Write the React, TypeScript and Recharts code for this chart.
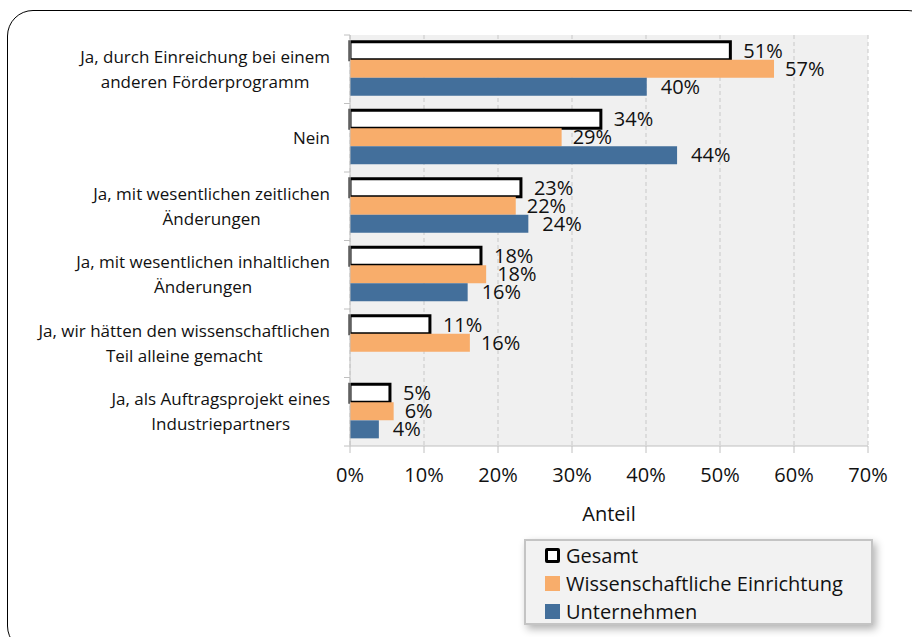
import { BarChart, Bar, XAxis, YAxis, CartesianGrid, LabelList } from "recharts";

const categories = [
    "Ja, durch Einreichung bei einem\nanderen Förderprogramm",
    "Nein",
    "Ja, mit wesentlichen zeitlichen\nÄnderungen",
    "Ja, mit wesentlichen inhaltlichen\nÄnderungen",
    "Ja, wir hätten den wissenschaftlichen\nTeil alleine gemacht",
    "Ja, als Auftragsprojekt eines\nIndustriepartners",
];
const gesamt = [51.4, 33.9, 23.1, 17.7, 10.8, 5.4];
const wissenschaft = [57.3, 28.6, 22.4, 18.4, 16.2, 5.9];
const unternehmen: (number | null)[] = [40.1, 44.2, 24.1, 15.9, null, 3.9];
const xTicks = [0, 10, 20, 30, 40, 50, 60, 70];

const BLUE = "#436f9b";
const ORANGE = "#f8ad6b";
const FONT = "'Open Sans', sans-serif";

const data = categories.map((name, i) => ({
    name,
    gesamt: gesamt[i],
    wissenschaft: wissenschaft[i],
    unternehmen: unternehmen[i],
}));

const PLOT_TOP = 35;
const PLOT_BOTTOM = 446;
const BAND = (PLOT_BOTTOM - PLOT_TOP) / categories.length;

let ctx: CanvasRenderingContext2D | null = null;
function measure(text: string, size: number) {
    if (!ctx) ctx = document.createElement("canvas").getContext("2d");
    if (!ctx) return text.length * size * 0.5;
    ctx.font = `${size}px 'Open Sans'`;
    return ctx.measureText(text).width;
}

const CategoryTick = (props: any) => {
    const { x, y, payload, index } = props;
    const lines: string[] = String(payload.value).split("\n");
    const size = 17;
    const w = Math.max(...lines.map((l) => measure(l, size)));
    const cx = 330 - w / 2;
    const lh = 25;
    const startY = y - ((lines.length - 1) * lh) / 2;
    return (
        <g>
            <line x1={x + 2} x2={x + 8} y1={y - BAND / 2} y2={y - BAND / 2} stroke="#c0c0c0" />
            {index === categories.length - 1 && (
                <line x1={x + 2} x2={x + 8} y1={y + BAND / 2} y2={y + BAND / 2} stroke="#c0c0c0" />
            )}
            <text textAnchor="middle" fontSize={size} fontFamily={FONT} fill="#111">
                {lines.map((l, i) => (
                    <tspan key={i} x={cx} y={startY + i * lh} dy="0.35em">
                        {l}
                    </tspan>
                ))}
            </text>
        </g>
    );
};

const fmt = (v: any) => (v == null ? "" : `${Math.round(Number(v))}%`);

export default function App() {
    return (
        <div style={{ position: "absolute", left: 0, top: 0, width: 912, height: 637, overflow: "hidden", background: "#fff" }}>
            <div
                style={{
                    position: "absolute",
                    left: 7,
                    top: 10,
                    width: 925,
                    height: 640,
                    border: "1px solid #000",
                    borderRadius: 26,
                }}
            />
            <div style={{ position: "absolute", left: 0, top: 0 }}>
                <BarChart
                    width={912}
                    height={637}
                    data={data}
                    layout="vertical"
                    margin={{ top: PLOT_TOP, right: 44, bottom: 0, left: 0 }}
                    barCategoryGap="10%"
                    barGap={0}
                >
                    <CartesianGrid horizontal={false} strokeDasharray="4 3" stroke="#c8c8c8" fill="#f0f0f0" />
                    <XAxis
                        type="number"
                        domain={[0, 70]}
                        ticks={xTicks}
                        height={637 - PLOT_BOTTOM}
                        tickFormatter={(v) => `${v}%`}
                        tick={{ fontSize: 20, fill: "#111", fontFamily: FONT }}
                        tickSize={7}
                        tickMargin={15}
                        stroke="#c0c0c0"
                        label={{ value: "Anteil", position: "insideTop", offset: 61, fontSize: 20, fill: "#111", fontFamily: FONT }}
                    />
                    <YAxis
                        type="category"
                        dataKey="name"
                        width={350}
                        stroke="#c0c0c0"
                        tickLine={false}
                        tick={<CategoryTick />}
                        interval={0}
                    />
                    <Bar dataKey="gesamt" fill="#fff" stroke="#000" strokeWidth={3} isAnimationActive={false}>
                        <LabelList dataKey="gesamt" position="right" offset={13} formatter={fmt} fontSize={20} fill="#111" fontFamily={FONT} />
                    </Bar>
                    <Bar dataKey="wissenschaft" fill={ORANGE} isAnimationActive={false}>
                        <LabelList dataKey="wissenschaft" position="right" offset={11} formatter={fmt} fontSize={20} fill="#111" fontFamily={FONT} />
                    </Bar>
                    <Bar dataKey="unternehmen" fill={BLUE} isAnimationActive={false}>
                        <LabelList dataKey="unternehmen" position="right" offset={14} formatter={fmt} fontSize={20} fill="#111" fontFamily={FONT} />
                    </Bar>
                </BarChart>
            </div>
            <div
                style={{
                    position: "absolute",
                    left: 524,
                    top: 539,
                    width: 349,
                    height: 86,
                    background: "#f2f2f2",
                    border: "2px solid #c4c4c4",
                    boxShadow: "3px 4px 8px rgba(0,0,0,0.3)",
                    fontFamily: FONT,
                    fontSize: 20,
                    color: "#111",
                    boxSizing: "border-box",
                }}
            >
                {[
                    { name: "Gesamt", icon: { background: "#fff", border: "3px solid #000", borderRadius: 2 } },
                    { name: "Wissenschaftliche Einrichtung", icon: { background: ORANGE } },
                    { name: "Unternehmen", icon: { background: BLUE } },
                ].map((item, i) => (
                    <div key={i} style={{ position: "absolute", left: 19, top: i * 28, height: 28, display: "flex", alignItems: "center" }}>
                        <span style={{ display: "inline-block", width: 15, height: 15, boxSizing: "border-box", marginRight: 6, ...item.icon }} />
                        <span>{item.name}</span>
                    </div>
                ))}
            </div>
        </div>
    );
}
